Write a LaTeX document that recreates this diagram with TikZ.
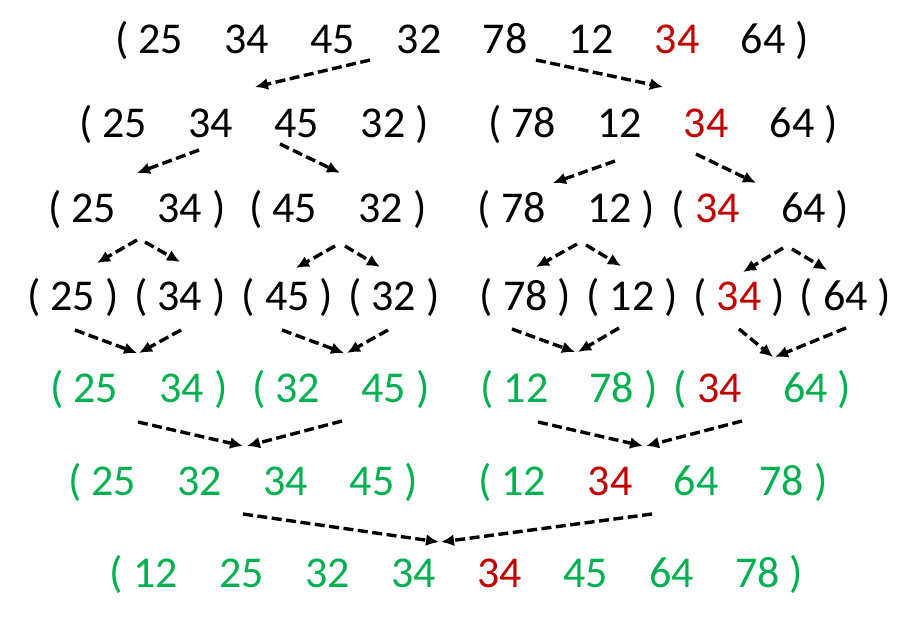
\documentclass[tikz,border=0pt]{standalone}
\usepackage{fontspec}
\setmainfont{Carlito}
\usepackage{xcolor}
\usetikzlibrary{positioning, calc, arrows.meta, decorations.markings}
\definecolor{dupred}{HTML}{C00000}
\definecolor{sortgreen}{HTML}{00B050}
\newcommand{\gap}{\hspace{41.4pt}}
\newcommand{\dup}{\textcolor{dupred}{34}}
\tikzstyle{Arrow} = [
%Dashed arrow with a solid tip:
line width = 3.4pt, dash pattern = on 10pt off 4.5pt,
decoration={
markings,
mark=at position 1 with {
\arrow{Latex[length=13pt, width=12pt]}
}
},
shorten >= 6pt, preaction = {decorate}
]

\begin{document}
\begin{tikzpicture}[x=1pt, y=-1pt,
			seq/.style = {inner sep = 0pt, anchor = base, font = \fontsize{44}{52}\selectfont},
			sorted/.style = {seq, text = sortgreen},
		]
		\useasboundingbox (0,0) rectangle (907,642);

		% splitting
		\node[seq](S) at (462,54){( 25\gap 34\gap 45\gap 32\gap 78\gap 12\gap \dup\gap 64 )};
		\node[seq](S1) at (254,137){( 25\gap 34\gap 45\gap 32 )};
		\node[seq](S2) at (663,137){( 78\gap 12\gap \dup\gap 64 )};
		\node[seq](S11) at (137,222){( 25\gap 34 )};
		\node[seq](S12) at (338,222){( 45\gap 32 )};
		\node[seq](S21) at (566.5,222){( 78\gap 12 )};
		\node[seq](S22) at (760.5,222){( \dup\gap 64 )};
		\node[seq](S111) at (73,310){( 25 )};
		\node[seq](S112) at (180,310){( 34 )};
		\node[seq](S121) at (287.5,310){( 45 )};
		\node[seq](S122) at (394,310){( 32 )};
		\node[seq](S211) at (525.5,310){( 78 )};
		\node[seq](S212) at (632,310){( 12 )};
		\node[seq](S221) at (739,310){( \dup\ )};
		\node[seq](S222) at (845.5,310){( 64 )};

		% merging
		\node[sorted](M11) at (139,402){( 25\gap 34 )};
		\node[sorted](M12) at (341,402){( 32\gap 45 )};
		\node[sorted](M21) at (569,402){( 12\gap 78 )};
		\node[sorted](M22) at (762.5,402){( \dup\gap 64 )};
		\node[sorted](M1) at (243,495){( 25\gap 32\gap 34\gap 45 )};
		\node[sorted](M2) at (653,495){( 12\gap \dup\gap 64\gap 78 )};
		\node[sorted](M) at (456.5,587){( 12\gap 25\gap 32\gap 34\gap \dup\gap 45\gap 64\gap 78 )};

		% arrow ends
		\coordinate (s1) at (370,60);   \coordinate (t1) at (255,87);
		\coordinate (s2) at (536,60);   \coordinate (t2) at (663,87);
		\coordinate (s3) at (199,150);  \coordinate (t3) at (137,173);
		\coordinate (s4) at (280,144);  \coordinate (t4) at (340,173);
		\coordinate (s5) at (615,161);  \coordinate (t5) at (553,183);
		\coordinate (s6) at (696,154);  \coordinate (t6) at (756,183);
		\coordinate (s7) at (137,240);  \coordinate (t7) at (97,263);
		\coordinate (s8) at (145,242);  \coordinate (t8) at (180,262);
		\coordinate (s9) at (335,246);  \coordinate (t9) at (296,268);
		\coordinate (s10) at (345,246); \coordinate (t10) at (380,267);
		\coordinate (s11) at (577,244); \coordinate (t11) at (536,267);
		\coordinate (s12) at (586,245); \coordinate (t12) at (621,266);
		\coordinate (s13) at (783,248); \coordinate (t13) at (743,272);
		\coordinate (s14) at (792,249); \coordinate (t14) at (827,270);
		\coordinate (s15) at (75,330);  \coordinate (t15) at (137,353);
		\coordinate (s16) at (181,330); \coordinate (t16) at (139,353);
		\coordinate (s17) at (282,330); \coordinate (t17) at (344,353);
		\coordinate (s18) at (388,330); \coordinate (t18) at (347,353);
		\coordinate (s19) at (512,329); \coordinate (t19) at (575,352);
		\coordinate (s20) at (619,328); \coordinate (t20) at (578,352);
		\coordinate (s21) at (739,329); \coordinate (t21) at (773,357);
		\coordinate (s22) at (846,328); \coordinate (t22) at (775,357);
		\coordinate (s23) at (138,422); \coordinate (t23) at (243,446);
		\coordinate (s24) at (342,421); \coordinate (t24) at (247,446);
		\coordinate (s25) at (538,422); \coordinate (t25) at (643,446);
		\coordinate (s26) at (742,421); \coordinate (t26) at (646,446);
		\coordinate (s27) at (243,514); \coordinate (t27) at (439,542);
		\coordinate (s28) at (652,514); \coordinate (t28) at (441,542);

		\draw[Arrow](s1)--(t1);   \draw[Arrow](s2)--(t2);
		\draw[Arrow](s3)--(t3);   \draw[Arrow](s4)--(t4);
		\draw[Arrow](s5)--(t5);   \draw[Arrow](s6)--(t6);
		\draw[Arrow](s7)--(t7);   \draw[Arrow](s8)--(t8);
		\draw[Arrow](s9)--(t9);   \draw[Arrow](s10)--(t10);
		\draw[Arrow](s11)--(t11); \draw[Arrow](s12)--(t12);
		\draw[Arrow](s13)--(t13); \draw[Arrow](s14)--(t14);
		\draw[Arrow](s15)--(t15); \draw[Arrow](s16)--(t16);
		\draw[Arrow](s17)--(t17); \draw[Arrow](s18)--(t18);
		\draw[Arrow](s19)--(t19); \draw[Arrow](s20)--(t20);
		\draw[Arrow](s21)--(t21); \draw[Arrow](s22)--(t22);
		\draw[Arrow](s23)--(t23); \draw[Arrow](s24)--(t24);
		\draw[Arrow](s25)--(t25); \draw[Arrow](s26)--(t26);
		\draw[Arrow](s27)--(t27); \draw[Arrow](s28)--(t28);

	\end{tikzpicture}
\end{document}
